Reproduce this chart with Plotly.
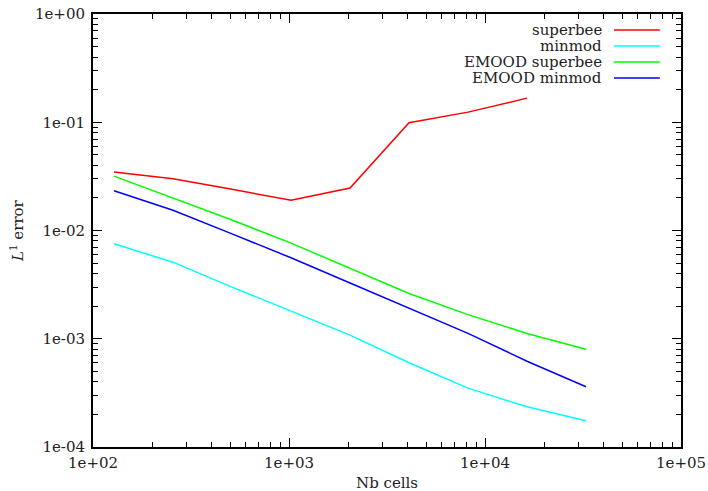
import plotly.graph_objects as go

cells = [128, 256, 512, 1024, 2048, 4096, 8192, 16384, 32768]
superbee = [0.0347, 0.0300, 0.0240, 0.0190, 0.0247, 0.0990, 0.124, 0.167]
minmod = [0.00753, 0.0051, 0.0030, 0.00180, 0.00108, 0.00060, 0.00035, 0.000235, 0.000175]
emood_superbee = [0.0318, 0.0199, 0.0125, 0.00765, 0.0045, 0.00262, 0.00167, 0.00112, 0.00080]
emood_minmod = [0.0233, 0.0154, 0.0093, 0.0056, 0.00327, 0.00192, 0.00112, 0.00062, 0.00036]

names = ["superbee", "minmod", "EMOOD superbee", "EMOOD minmod"]
colors = ["#ff0000", "#00ffff", "#00ff00", "#0000ff"]
series = [superbee, minmod, emood_superbee, emood_minmod]

x_ticks = [1e2, 1e3, 1e4, 1e5]
x_ticktext = ["1e+02", "1e+03", "1e+04", "1e+05"]
y_ticks = [1e-4, 1e-3, 1e-2, 1e-1, 1e0]
y_ticktext = ["1e-04", "1e-03", "1e-02", "1e-01", "1e+00"]
x_minor = [k * 10.0 ** e for e in range(2, 5) for k in range(2, 10)]
y_minor = [k * 10.0 ** e for e in range(-4, 0) for k in range(2, 10)]

FONT = "DejaVu Serif"
TXT = "#222"

fig = go.Figure()
for name, col, ys in zip(names, colors, series):
    fig.add_trace(go.Scatter(x=cells[:len(ys)], y=ys, mode="lines", name=name,
                             line=dict(color=col, width=1.5), showlegend=False))

# custom legend (text right-aligned, line sample on the right)
for i, (name, col) in enumerate(zip(names, colors)):
    yp = 0.963 - i * 0.037
    fig.add_annotation(x=0.868, y=yp, xref="paper", yref="paper", text=name,
                       showarrow=False, xanchor="right", yanchor="middle",
                       borderpad=0,
                       font=dict(family=FONT, size=15, color=TXT))
    fig.add_shape(type="line", xref="paper", yref="paper",
                  x0=0.886, x1=0.964, y0=yp, y1=yp,
                  line=dict(color=col, width=1.5))

# axis titles
fig.add_annotation(x=0.5, y=-0.082, xref="paper", yref="paper", text="Nb cells",
                   showarrow=False, xanchor="center", yanchor="middle", borderpad=0,
                   font=dict(family=FONT, size=15, color=TXT))
fig.add_annotation(x=-0.13, y=0.5, xref="paper", yref="paper",
                   text="<i>L</i><sup>1</sup> error", textangle=-90,
                   showarrow=False, xanchor="center", yanchor="middle",
                   font=dict(family=FONT, size=15, color=TXT))

axis_common = dict(type="log", showgrid=False, zeroline=False, showline=True,
                   linecolor="black", linewidth=2, mirror="allticks",
                   ticks="inside", ticklen=9, tickwidth=1.2, tickcolor="black",
                   automargin=False,
                   tickfont=dict(family=FONT, size=15, color=TXT))

fig.update_xaxes(range=[2, 5], tickvals=x_ticks, ticktext=x_ticktext,
                 ticklabelstandoff=1,
                 minor=dict(tickvals=x_minor, ticks="inside", ticklen=5, tickwidth=1,
                            tickcolor="black", showgrid=False),
                 **axis_common)
fig.update_yaxes(range=[-4, 0], tickvals=y_ticks, ticktext=y_ticktext,
                 ticklabelstandoff=3,
                 minor=dict(tickvals=y_minor, ticks="inside", ticklen=5, tickwidth=1,
                            tickcolor="black", showgrid=False),
                 **axis_common)

fig.update_layout(width=708, height=491, margin=dict(l=93, r=27, t=14, b=44),
                  plot_bgcolor="white", paper_bgcolor="white",
                  font=dict(family=FONT, size=15, color=TXT))

fig.write_html("out.html", config={"displayModeBar": False},
               post_script="document.body.style.margin='0';")
